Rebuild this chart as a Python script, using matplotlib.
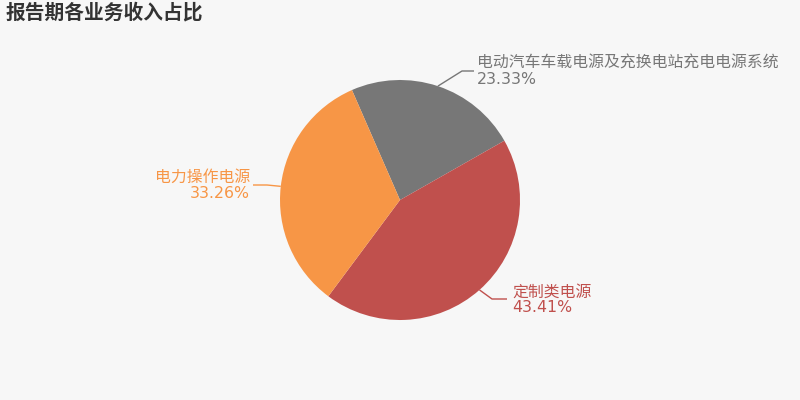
import matplotlib
matplotlib.use("Agg")
import matplotlib.pyplot as plt
import numpy as np

plt.rcParams['font.family'] = ['DejaVu Sans', 'Noto Sans CJK SC']

# Data
categories = ["电动汽车车载电源及充换电站充电电源系统", "定制类电源", "电力操作电源"]
values = [23.33, 43.41, 33.26]
pct_labels = ["23.33%", "43.41%", "33.26%"]
colors = ["#777777", "#c0504d", "#f79646"]
title = "报告期各业务收入占比"

# Layout (pixel coords, y from top)
W, H = 800, 400
cx, cy, R = 400, 200, 120
start_angle = 113.6
# elbow point, end of horizontal segment, text anchor x, alignment
layout = [
    dict(elbow=(462, 71), end=(474, 71), tx=477, ha="left", ny=63, py=79),
    dict(elbow=(492, 299), end=(507, 299), tx=512, ha="left", ny=292, py=308),
    dict(elbow=(267, 185), end=(253, 185), tx=250, ha="right", ny=177, py=193),
]

bg = "#f7f7f7"
fig = plt.figure(figsize=(8, 4), dpi=100, facecolor=bg)
ax = fig.add_axes([0, 0, 1, 1])
ax.set_facecolor(bg)

def Y(y):
    return H - y

wedges, _ = ax.pie(values, colors=colors, startangle=start_angle, counterclock=False,
                   center=(cx, Y(cy)), radius=R, frame=True,
                   wedgeprops=dict(linewidth=0))
ax.set_xlim(0, W)
ax.set_ylim(0, H)
ax.set_aspect("equal")
ax.axis("off")

for w, name, pct, col, lay in zip(wedges, categories, pct_labels, colors, layout):
    mid = np.deg2rad((w.theta1 + w.theta2) / 2)
    ex, ey = cx + R * np.cos(mid), Y(cy) + R * np.sin(mid)
    bx, by = lay["elbow"]
    hx, hy = lay["end"]
    ax.plot([ex, bx, hx], [ey, Y(by), Y(hy)], color=col, lw=1, solid_capstyle="butt")
    ax.text(lay["tx"], Y(lay["ny"]), name, color=col, fontsize=11.4, ha=lay["ha"], va="center")
    ax.text(lay["tx"], Y(lay["py"]), pct, color=col, fontsize=11.3, ha=lay["ha"], va="center")

fig.text(6 / W, 1 - 13 / H, title, fontsize=14.2, fontweight="bold", color="#333333",
         ha="left", va="center", family=["Noto Sans CJK SC"])

fig.savefig("out.png", dpi=100, facecolor=bg)
